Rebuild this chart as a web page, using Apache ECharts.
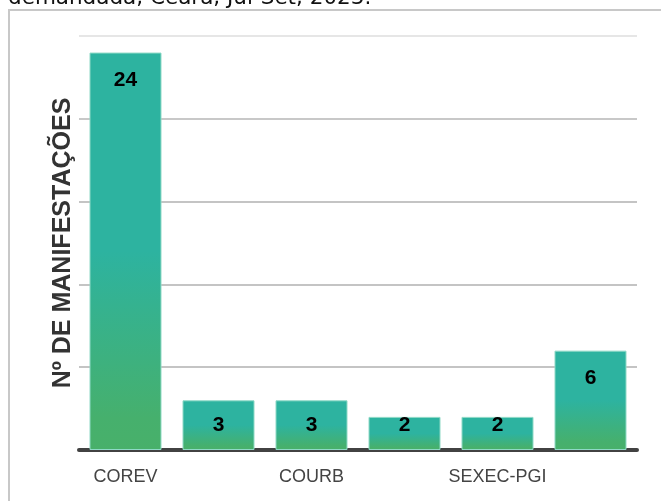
<!DOCTYPE html>
<html>
<head>
<meta charset="utf-8">
<script src="https://cdn.jsdelivr.net/npm/echarts@6/dist/echarts.min.js"></script>
<style>
  html, body { margin: 0; padding: 0; background: #ffffff; }
  #chart { width: 661px; height: 501px; }
</style>
</head>
<body>
<div id="chart"></div>
<script>
// Manifestações por área demandada
const categories = ['COREV', 'CODES', 'COURB', 'COFIS', 'SEXEC-PGI', 'GABIN'];
const values = [24, 3, 3, 2, 2, 6];
const yTicks = [0, 5, 10, 15, 20, 25];
const captionText = 'demandada, Ceará, Jul-Set, 2023.';
const yAxisTitle = 'Nº DE MANIFESTAÇÕES';

const barGradient = new echarts.graphic.LinearGradient(0, 0, 0, 1, [
  { offset: 0, color: '#2db3a0' },
  { offset: 0.5, color: '#2db3a0' },
  { offset: 0.92, color: '#46b06d' },
  { offset: 1, color: '#48b06a' }
]);

// tall bars carry their value near the top, short bars near the base
const barData = values.map(v => ({
  value: v,
  label: v >= 4
    ? { position: 'insideTop', distance: 17 }
    : { position: 'insideBottom', distance: 14 }
}));

const chart = echarts.init(document.getElementById('chart'), null, { renderer: 'canvas' });

chart.setOption({
  animation: false,
  backgroundColor: '#ffffff',
  graphic: [
    {
      type: 'text',
      left: 8,
      top: -13,
      style: {
        text: captionText,
        fill: '#111111',
        font: '21.5px "DejaVu Sans", sans-serif'
      }
    },
    {
      type: 'polyline',
      shape: { points: [[9, 501], [9, 10], [661, 10]] },
      style: { stroke: '#c8c8c8', lineWidth: 2, fill: null }
    }
  ],
  grid: { left: 79, right: 24, top: 36, bottom: 51, containLabel: false },
  xAxis: {
    type: 'category',
    data: categories,
    axisLine: { show: true, lineStyle: { color: '#424242', width: 4 } },
    axisTick: { show: false },
    axisLabel: {
      interval: 1,
      color: '#444444',
      fontSize: 18,
      fontFamily: '"Liberation Sans", Arial, sans-serif',
      margin: 18
    }
  },
  yAxis: {
    type: 'value',
    min: yTicks[0],
    max: yTicks[yTicks.length - 1],
    interval: 5,
    name: yAxisTitle,
    nameLocation: 'middle',
    nameGap: 3,
    nameTextStyle: {
      color: '#333333',
      fontSize: 25,
      fontWeight: 'bold',
      fontFamily: '"Liberation Sans", Arial, sans-serif'
    },
    axisLine: { show: false },
    axisTick: { show: false },
    axisLabel: { show: false },
    splitLine: {
      lineStyle: {
        color: ['#c4c4c4', '#c4c4c4', '#c4c4c4', '#c4c4c4', '#c8c8c8', '#e6e6e6'],
        width: 2
      }
    }
  },
  series: [{
    type: 'bar',
    data: barData,
    barWidth: 72,
    itemStyle: {
      color: barGradient,
      borderColor: '#8fd9c6',
      borderWidth: 1
    },
    label: {
      show: true,
      color: '#000000',
      fontSize: 21,
      fontWeight: 'bold',
      fontFamily: '"Liberation Sans", Arial, sans-serif'
    }
  }]
});
</script>
</body>
</html>
